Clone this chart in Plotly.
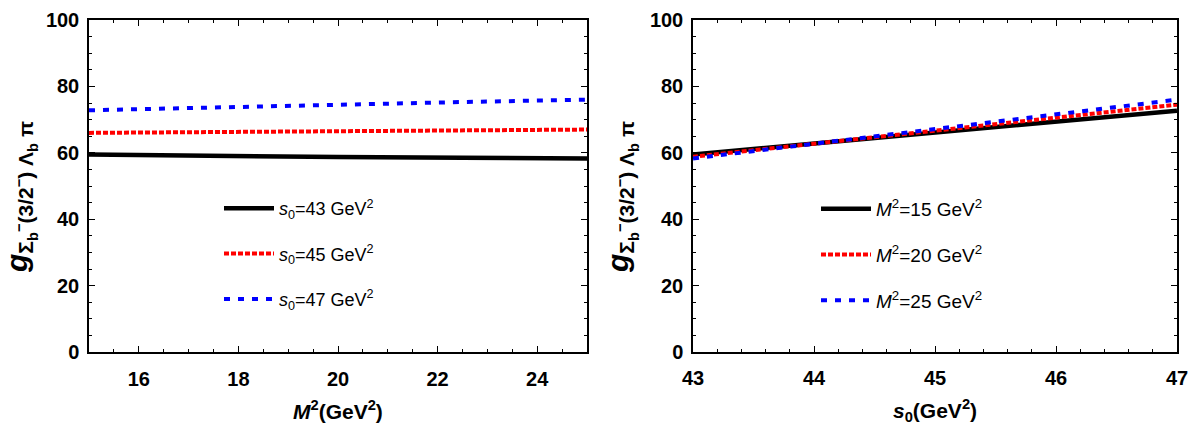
import plotly.graph_objects as go

# Left panel: g vs M^2 for fixed s0
m2_vals = [15, 17.5, 20, 22.5, 25]
g_s0_43 = [59.5, 59.0, 58.7, 58.5, 58.3]
g_s0_45 = [66.0, 66.3, 66.6, 66.8, 67.0]
g_s0_47 = [72.8, 73.7, 74.5, 75.3, 76.0]

# Right panel: g vs s0 for fixed M^2
s0_vals = [43, 44, 45, 46, 47]
g_m2_15 = [59.5, 62.8, 66.0, 69.3, 72.7]
g_m2_20 = [58.8, 62.7, 66.6, 70.5, 74.5]
g_m2_25 = [58.3, 62.7, 67.0, 71.4, 76.0]

left_names = ["<i>s</i><sub>0</sub>=43 GeV<sup>2</sup>",
              "<i>s</i><sub>0</sub>=45 GeV<sup>2</sup>",
              "<i>s</i><sub>0</sub>=47 GeV<sup>2</sup>"]
right_names = ["<i>M</i><sup>2</sup>=15 GeV<sup>2</sup>",
               "<i>M</i><sup>2</sup>=20 GeV<sup>2</sup>",
               "<i>M</i><sup>2</sup>=25 GeV<sup>2</sup>"]

styles = [dict(color="black", width=4.5, dash="solid"),
          dict(color="#ff0000", width=4, dash="5px,2px"),
          dict(color="#0000ff", width=4, dash="6px,8px")]

fig = go.Figure()
for i, ys in enumerate([g_s0_43, g_s0_45, g_s0_47]):
    fig.add_trace(go.Scatter(x=m2_vals, y=ys, mode="lines", name=left_names[i],
                             line=styles[i], xaxis="x", yaxis="y",
                             legend="legend", legendgroup="L%d" % i))
for i, ys in enumerate([g_m2_15, g_m2_20, g_m2_25]):
    fig.add_trace(go.Scatter(x=s0_vals, y=ys, mode="lines", name=right_names[i],
                             line=styles[i], xaxis="x2", yaxis="y2",
                             legend="legend2", legendgroup="R%d" % i))

W, H = 1188, 431
ydom = [1 - 352 / H, 1 - 20 / H]
tickfont = dict(family="Liberation Sans", size=20, color="black", weight="bold")

def axis(**kw):
    d = dict(showline=True, linecolor="black", linewidth=1.5, mirror="allticks",
             ticks="inside", ticklen=6, tickwidth=1.2, tickcolor="black",
             showgrid=False, zeroline=False, tickfont=tickfont, automargin=False,
             ticklabeloverflow="allow")
    d.update(kw)
    return d

fig.update_layout(
    width=W, height=H, margin=dict(l=0, r=0, t=0, b=0, autoexpand=False),
    plot_bgcolor="white", paper_bgcolor="white",
    font=dict(family="Liberation Sans", color="black"),
    xaxis=axis(domain=[89 / W, 587 / W], range=[15, 25], tickvals=[16, 18, 20, 22, 24],
               ticklabelstandoff=8,
               minor=dict(ticks="inside", dtick=0.5, ticklen=3, tickcolor="black"), anchor="y"),
    yaxis=axis(domain=ydom, range=[0, 100], dtick=20, ticklabelstandoff=4,
               minor=dict(ticks="inside", dtick=5, ticklen=3, tickcolor="black"), anchor="x"),
    xaxis2=axis(domain=[693 / W, 1177 / W], range=[43, 47], dtick=1, ticklabelstandoff=7,
                minor=dict(ticks="inside", dtick=0.2, ticklen=3, tickcolor="black"), anchor="y2"),
    yaxis2=axis(domain=ydom, range=[0, 100], dtick=20, ticklabelstandoff=4,
                minor=dict(ticks="inside", dtick=5, ticklen=3, tickcolor="black"), anchor="x2"),
    legend=dict(x=219 / W, y=1 - 190 / H, xanchor="left", yanchor="top",
                bgcolor="rgba(0,0,0,0)", font=dict(size=18, family="Liberation Sans"),
                tracegroupgap=19, itemwidth=50),
    legend2=dict(x=816 / W, y=1 - 190 / H, xanchor="left", yanchor="top",
                 bgcolor="rgba(0,0,0,0)", font=dict(size=19, family="Liberation Sans"),
                 tracegroupgap=18, itemwidth=50),
    showlegend=True,
)

ytitle = "<b><i>g</i><sub>Σ<sub>b</sub><sup>−</sup>(3/2<sup>−</sup>) Λ<sub>b</sub> π</sub></b>"
for xp in (20, 621):
    fig.add_annotation(text=ytitle, xref="paper", yref="paper", x=xp / W, y=1 - 197 / H,
                       xanchor="center", yanchor="middle",
                       textangle=-90, showarrow=False, font=dict(size=30, family="Liberation Sans"))
fig.add_annotation(text="<b><i>M</i><sup>2</sup>(GeV<sup>2</sup>)</b>", xref="paper", yref="paper",
                   x=338 / W, y=1 - 410 / H, xanchor="center", yanchor="middle", showarrow=False,
                   font=dict(size=21, family="Liberation Sans"))
fig.add_annotation(text="<b><i>s</i><sub>0</sub>(GeV<sup>2</sup>)</b>", xref="paper", yref="paper",
                   x=935 / W, y=1 - 410 / H, xanchor="center", yanchor="middle", showarrow=False,
                   font=dict(size=21, family="Liberation Sans"))

fig.write_html("out.html")
